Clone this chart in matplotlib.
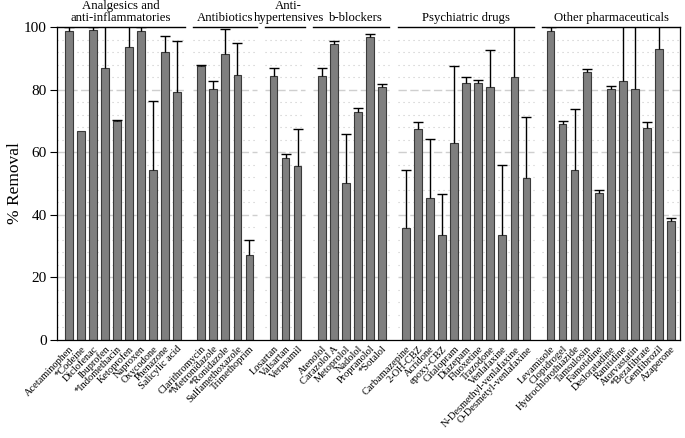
import matplotlib
matplotlib.use("Agg")
import matplotlib.pyplot as plt
import numpy as np
from matplotlib.transforms import blended_transform_factory

plt.rcParams['font.family'] = ['Liberation Serif', 'DejaVu Serif']

# ---------------- data ----------------
group_names = ["Analgesics and\nanti-inflammatories", "Antibiotics", "Anti-\nhypertensives",
               "b-blockers", "Psychiatric drugs", "Other pharmaceuticals"]

analgesics_labels = ["Acetaminophen", "*Codeine", "Diclofenac", "Ibuprofen", "*Indomethacin",
                     "Ketoprofen", "Naproxen", "Oxycodone", "Phenazone", "Salicylic acid"]
analgesics_values = [98.6, 66.8, 99.1, 86.8, 70.0, 93.5, 98.8, 54.2, 92.0, 79.3]
analgesics_upper = [100.0, np.nan, 100.0, 110.0, 70.2, 110.0, 100.0, 76.3, 97.2, 95.6]

antibiotics_labels = ["Clarithromycin", "*Metronidazole", "*Ronidazole", "Sulfamethoxazole", "Trimethoprim"]
antibiotics_values = [87.5, 80.3, 91.3, 84.7, 27.2]
antibiotics_upper = [87.7, 82.6, 99.2, 94.9, 32.0]

antihyp_labels = ["Losartan", "Valsartan", "Verapamil"]
antihyp_values = [84.2, 58.0, 55.7]
antihyp_upper = [87.0, 59.5, 67.3]

bblock_labels = ["Atenolol", "Carazolol A", "Metoprolol", "Nadolol", "Propranolol", "*Sotalol"]
bblock_values = [84.2, 94.5, 50.2, 72.9, 96.7, 80.8]
bblock_upper = [87.0, 95.5, 65.9, 74.0, 97.8, 81.9]

psych_labels = ["Carbamazepine", "2-OH-CBZ", "Acridone", "epoxy-CBZ", "Citalopram", "Diazepam",
                "Fluoxetine", "Trazodone", "Venlafaxine", "N-Desmethyl-venlafaxine",
                "O-Desmetyl-venlafaxine"]
psych_values = [35.7, 67.4, 45.3, 33.5, 62.8, 82.0, 82.0, 80.9, 33.4, 84.1, 51.8]
psych_upper = [54.2, 69.7, 64.2, 46.5, 87.4, 83.9, 83.2, 92.7, 55.8, 110.0, 71.2]

other_labels = ["Levamisole", "Clopidrogel", "Hydrochlorothiazide", "Tamsulosin", "Famotidine",
                "Desloratadine", "Ranitidine", "Atorvastatin", "*Bezafibrate", "Gemfibrozil",
                "Azaperone"]
other_values = [98.6, 68.9, 54.3, 85.6, 46.9, 80.3, 82.9, 80.1, 67.8, 92.9, 38.0]
other_upper = [100.0, 70.1, 73.9, 86.7, 48.0, 81.3, 110.0, 110.0, 69.5, 110.0, 39.1]

group_labels = [analgesics_labels, antibiotics_labels, antihyp_labels, bblock_labels, psych_labels, other_labels]
group_values = [analgesics_values, antibiotics_values, antihyp_values, bblock_values, psych_values, other_values]
group_upper = [analgesics_upper, antibiotics_upper, antihyp_upper, bblock_upper, psych_upper, other_upper]

yticks = [0, 20, 40, 60, 80, 100]

# ---------------- figure ----------------
fig = plt.figure(figsize=(6.85, 4.38), dpi=100)
ax = fig.add_axes([0.0828, 0.2237, 0.9099, 0.7147])

XMIN, XMAX = -1.0, 50.75
ax.set_xlim(XMIN, XMAX)
ax.set_ylim(0, 100)

trans = blended_transform_factory(ax.transData, ax.transAxes)

all_pos, all_labels = [], []
start = 0
n_groups = len(group_names)
for gi, (name, labs, vals, ups) in enumerate(zip(group_names, group_labels, group_values, group_upper)):
    n = len(labs)
    pos = np.arange(start, start + n)
    vals = np.array(vals, dtype=float)
    ups = np.array(ups, dtype=float)
    left = XMIN if gi == 0 else pos[0] - 0.68
    right = XMAX if gi == n_groups - 1 else pos[-1] + 0.62
    # grid
    for yv in np.arange(4, 100, 4):
        if yv % 20 == 0:
            ax.hlines(yv, left, right, colors='#cfcfcf', linewidth=1.0,
                      linestyles=(0, (6, 2.5)), zorder=0)
        else:
            ax.hlines(yv, left, right, colors='#c8c8c8', linewidth=0.8,
                      linestyles=(0, (1, 3.5)), zorder=0)
    # bars
    ax.bar(pos, vals, width=0.64, color='#7f7f7f', edgecolor='#3a3a3a', linewidth=0.8, zorder=2)
    # error bars (upper only)
    m = ~np.isnan(ups)
    ax.vlines(pos[m], vals[m], ups[m], colors='black', linewidth=1.0, zorder=3)
    ax.plot(pos[m], ups[m], linestyle='none', marker='_', markersize=7.4,
            markeredgewidth=1.0, color='black', zorder=3)
    # header line and text
    ax.plot([left, right], [1.0, 1.0], transform=trans, color='black', linewidth=1.0,
            clip_on=False, zorder=4)
    tx = (left + right) / 2
    if gi == 2:
        tx += 0.3
    if gi == 3:
        tx += 0.4
    ax.text(tx, 1.01, name, transform=trans, ha='center', va='bottom',
            fontsize=9.2, linespacing=0.95)
    all_pos.extend(pos)
    all_labels.extend(labs)
    start += n + 1

ax.set_xticks(all_pos)
ax.set_xticklabels(all_labels, rotation=46, ha='right', va='top', rotation_mode='anchor',
                   fontsize=7.5)
ax.tick_params(axis='x', length=0, pad=3)
ax.set_yticks(yticks)
ax.tick_params(axis='y', length=5, width=0.8, labelsize=11, direction='out', pad=2)
ax.set_ylabel("% Removal", fontsize=12.5, labelpad=1)

ax.spines['top'].set_visible(False)
for s in ['left', 'right', 'bottom']:
    ax.spines[s].set_linewidth(0.9)

fig.savefig("out.png", dpi=100)
